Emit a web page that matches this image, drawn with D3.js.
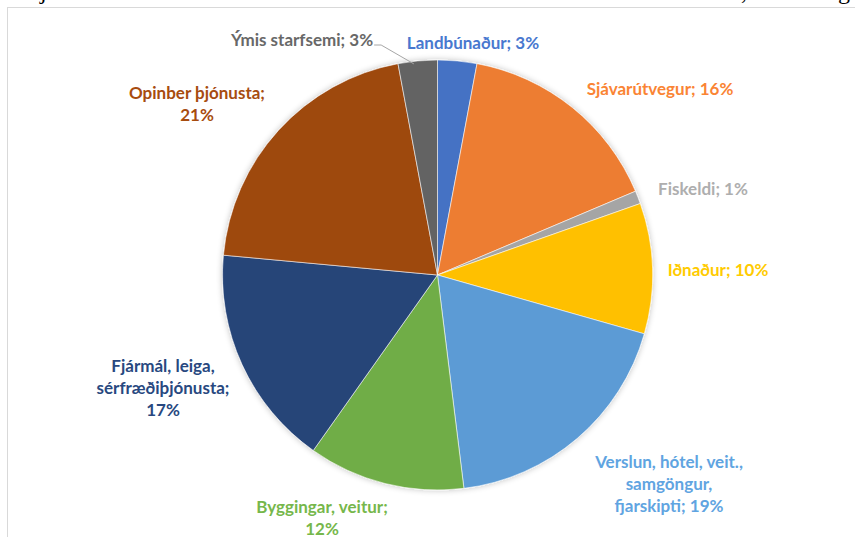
<!DOCTYPE html>
<html lang="en">
  <head>
    <meta charset="utf-8">
    <script src="https://cdnjs.cloudflare.com/ajax/libs/d3/7.8.5/d3.min.js"></script>
    <style>
      body { margin: 0; background: #fff; }
      .slices path {
        stroke: #fff;
        stroke-width: 0.8px;
        stroke-opacity: 0.7;
      }
      .labels text {
        font-family: Lato, "Open Sans", sans-serif;
        font-weight: bold;
        font-size: 17px;
        text-anchor: middle;
        dominant-baseline: central;
      }
    </style>
  </head>

  <body>

  <script>
  // data (percent shares, clockwise from 12 o'clock)
  var categories = ['Landbúnaður', 'Sjávarútvegur', 'Fiskeldi', 'Iðnaður',
                    'Verslun, hótel, veit., samgöngur, fjarskipti',
                    'Byggingar, veitur', 'Fjármál, leiga, sérfræðiþjónusta',
                    'Opinber þjónusta', 'Ýmis starfsemi'];
  var values = [3, 16, 1, 10, 19, 12, 17, 21, 3];
  var labelLines = [
    ['Landbúnaður; 3%'],
    ['Sjávarútvegur; 16%'],
    ['Fiskeldi; 1%'],
    ['Iðnaður; 10%'],
    ['Verslun, hótel, veit.,', 'samgöngur,', 'fjarskipti; 19%'],
    ['Byggingar, veitur;', '12%'],
    ['Fjármál, leiga,', 'sérfræðiþjónusta;', '17%'],
    ['Opinber þjónusta;', '21%'],
    ['Ýmis starfsemi; 3%']
  ];
  var colors = ['#4472C4', '#ED7D31', '#A5A5A5', '#FFC000', '#5B9BD5',
                '#70AD47', '#264478', '#9E480E', '#636363'];

  // layout
  var width = 855,
      height = 537,
      cx = 437.5,
      cy = 275,
      radius = 215,
      lineH = 22;

  // where the label blocks sit (centre of each block)
  var labelPos = [
    [473, 42], [660, 88], [703, 188], [718, 269], [669, 483],
    [322, 517], [163, 387], [197, 103], [302, 39]
  ];

  var svg = d3.select('body')
    .append('svg')
    .attr('width', width)
    .attr('height', height);

  var defs = svg.append('defs');
  var shadow = defs.append('filter')
    .attr('id', 'soft')
    .attr('x', '-10%').attr('y', '-10%')
    .attr('width', '120%').attr('height', '120%');
  shadow.append('feGaussianBlur')
    .attr('in', 'SourceAlpha')
    .attr('stdDeviation', 3);
  shadow.append('feComponentTransfer')
    .append('feFuncA').attr('type', 'linear').attr('slope', 0.25);
  var merge = shadow.append('feMerge');
  merge.append('feMergeNode');
  merge.append('feMergeNode').attr('in', 'SourceGraphic');

  // chart frame
  svg.append('rect')
    .attr('x', 7.5).attr('y', 7.5)
    .attr('width', width + 20).attr('height', height + 20)
    .attr('fill', '#fff')
    .attr('stroke', '#d9d9d9')
    .attr('stroke-width', 1);

  // cut-off line of the page text above the chart
  var pageText = svg.append('g')
    .attr('font-family', '"Liberation Serif", serif')
    .attr('font-size', 24)
    .attr('fill', '#000');
  pageText.append('text').attr('x', 40).attr('y', -1).text('j');
  pageText.append('text').attr('x', 741).attr('y', -1).text(',');
  pageText.append('text').attr('x', 838).attr('y', -1).text('g');

  var pie = d3.pie()
    .sort(null)
    .value(function (d) { return d; });

  var arc = d3.arc()
    .innerRadius(0)
    .outerRadius(radius);

  var arcs = pie(values);

  svg.append('g')
    .attr('class', 'slices')
    .attr('transform', 'translate(' + cx + ',' + cy + ')')
    .attr('filter', 'url(#soft)')
    .selectAll('path')
    .data(arcs)
    .enter().append('path')
      .attr('d', arc)
      .attr('fill', function (d, i) { return colors[i]; });

  var labels = svg.append('g').attr('class', 'labels');

  labels.selectAll('text')
    .data(arcs)
    .enter().append('text')
      .attr('fill', function (d, i) { return d3.color(colors[i]).brighter(0.15); })
      .each(function (d, i) {
        var lines = labelLines[i];
        var t = d3.select(this);
        var y0 = labelPos[i][1] - (lines.length - 1) * lineH / 2;
        lines.forEach(function (s, k) {
          t.append('tspan')
            .attr('x', labelPos[i][0])
            .attr('y', y0 + k * lineH)
            .text(s);
        });
      });

  // leader line for the small grey slice, starting at the end of its label
  var last = arcs[arcs.length - 1];
  var mid = (last.startAngle + last.endAngle) / 2;
  var tip = [cx + Math.sin(mid) * (radius - 2), cy - Math.cos(mid) * (radius - 2)];
  var box = labels.selectAll('text').nodes()[8].getBBox();
  var x0 = box.x + box.width + 1,
      y0 = labelPos[8][1] + 6;
  svg.append('polyline')
    .attr('points', [[x0, y0], [x0 + 7, y0], [tip[0] - 4, tip[1] + 1]].join(' '))
    .attr('fill', 'none')
    .attr('stroke', '#a6a6a6')
    .attr('stroke-width', 1);

  </script>
  </body>
</html>
